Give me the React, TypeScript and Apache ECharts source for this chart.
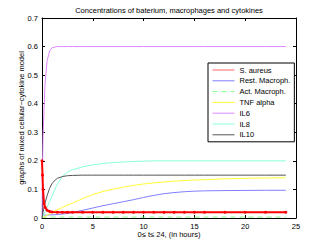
import React, { useEffect, useRef } from "react";
import * as echarts from "echarts";

const times = [0, 0.05, 0.1, 0.2, 0.3, 0.5, 0.75, 1, 1.5, 2, 2.5, 3, 4, 5, 6, 7, 8, 9, 10, 11, 12, 13, 14, 15, 16, 18, 20, 22, 24];

const sAureus = [0.2, 0.15, 0.1, 0.05, 0.038, 0.027, 0.023, 0.021, 0.02, 0.02, 0.02, 0.02, 0.02, 0.02, 0.02, 0.02, 0.02, 0.02, 0.02, 0.02, 0.02, 0.02, 0.02, 0.02, 0.02, 0.02, 0.02, 0.02, 0.02];
const restMacroph = [0.01, 0.01, 0.01, 0.01, 0.01, 0.01, 0.011, 0.011, 0.012, 0.014, 0.016, 0.019, 0.027, 0.035, 0.043, 0.05, 0.057, 0.064, 0.072, 0.079, 0.085, 0.089, 0.092, 0.094, 0.095, 0.096, 0.0965, 0.097, 0.097];
const actMacroph = [0, 0.003, 0.003, 0.003, 0.003, 0.003, 0.003, 0.003, 0.003, 0.003, 0.003, 0.003, 0.003, 0.003, 0.003, 0.003, 0.003, 0.003, 0.003, 0.003, 0.003, 0.003, 0.003, 0.003, 0.003, 0.003, 0.003, 0.003, 0.003];
const tnfAlpha = [0, 0.001, 0.002, 0.004, 0.006, 0.01, 0.015, 0.02, 0.029, 0.037, 0.045, 0.052, 0.068, 0.082, 0.093, 0.101, 0.108, 0.114, 0.119, 0.123, 0.126, 0.129, 0.131, 0.133, 0.134, 0.137, 0.139, 0.14, 0.141];
const il6 = [0, 0.17, 0.28, 0.38, 0.47, 0.55, 0.585, 0.596, 0.6, 0.6, 0.6, 0.6, 0.6, 0.6, 0.6, 0.6, 0.6, 0.6, 0.6, 0.6, 0.6, 0.6, 0.6, 0.6, 0.6, 0.6, 0.6, 0.6, 0.6];
const il8 = [0, 0.003, 0.007, 0.014, 0.022, 0.038, 0.058, 0.078, 0.118, 0.145, 0.16, 0.169, 0.179, 0.186, 0.191, 0.194, 0.196, 0.198, 0.199, 0.2, 0.2, 0.2, 0.2, 0.2, 0.2, 0.2, 0.2, 0.2, 0.2];
const il10 = [0, 0.01, 0.02, 0.038, 0.053, 0.078, 0.104, 0.122, 0.139, 0.145, 0.148, 0.149, 0.15, 0.15, 0.15, 0.15, 0.15, 0.15, 0.15, 0.15, 0.15, 0.15, 0.15, 0.15, 0.15, 0.15, 0.15, 0.15, 0.15];

const seriesNames = ["S. aureus", "Rest. Macroph.", "Act. Macroph.", "TNF alpha", "IL6", "IL8", "IL10"];
const xTicks = [0, 5, 10, 15, 20, 25];
const yTicks = [0, 0.1, 0.2, 0.3, 0.4, 0.5, 0.6, 0.7];

const FONT = "Liberation Sans, Arial, sans-serif";

export default function App() {
  const ref = useRef<HTMLDivElement>(null);
  useEffect(() => {
    if (!ref.current) return;
    const chart = echarts.init(ref.current, null, { renderer: "svg" });
    const pair = (vals: number[]) => times.map((t, i) => [t, vals[i]]);
    const values = [sAureus, restMacroph, actMacroph, tnfAlpha, il6, il8, il10];
    const colors = ["#ff0000", "#7f7fff", "#80ff80", "#ffff33", "#dd88ff", "#88ffdd", "#555555"];
    const series: any[] = values.map((v, i) => ({
      type: "line",
      name: seriesNames[i],
      data: pair(v),
      xAxisIndex: 0,
      yAxisIndex: 0,
      showSymbol: i === 0,
      symbol: i === 0 ? "circle" : "none",
      symbolSize: 3,
      smooth: false,
      color: colors[i],
      lineStyle: {
        color: colors[i],
        width: i === 0 ? 2 : 1,
        type: i === 2 ? [5, 4] : "solid",
      },
      itemStyle: { color: colors[i] },
      z: i === 0 ? 3 : 2,
    }));
    const axisCommon = {
      axisLine: { show: true, onZero: false, lineStyle: { color: "#000", width: 1 } },
      axisTick: { show: true, inside: true, length: 3, lineStyle: { color: "#000" } },
      splitLine: { show: false },
    };
    chart.setOption({
      animation: false,
      backgroundColor: "#fff",
      graphic: [
        {
          type: "text",
          x: 169,
          y: 10,
          style: {
            text: "Concentrations of baterium, macrophages and cytokines",
            align: "center",
            verticalAlign: "middle",
            font: `7.5px ${FONT}`,
            fill: "#000",
          },
        },
      ],
      grid: { left: 42, right: 31, top: 18, bottom: 28, show: false },
      legend: {
        data: seriesNames.map((n, i) => ({
          name: n,
          itemStyle: { opacity: 0 },
          lineStyle: { width: 1, opacity: i === 0 ? 0.6 : 1 },
        })),
        orient: "vertical",
        left: 208,
        top: 63,
        padding: [3, 4, 3, 4],
        itemWidth: 22,
        itemHeight: 8,
        itemGap: 2.8,
        backgroundColor: "#fff",
        borderColor: "#000",
        borderWidth: 1,
        borderRadius: 0,
        textStyle: { fontSize: 7.5, fontFamily: FONT, color: "#000", lineHeight: 8 },
      },
      xAxis: [
        {
          ...axisCommon,
          type: "value",
          min: xTicks[0],
          max: xTicks[xTicks.length - 1],
          interval: 5,
          position: "bottom",
          name: "0\u2264 t\u2264 24, (in hours)",
          nameLocation: "middle",
          nameGap: 12,
          nameMoveOverlap: false,
          nameTextStyle: { fontSize: 7.5, fontFamily: FONT, color: "#000" },
          axisLabel: { fontSize: 7.5, fontFamily: FONT, color: "#000", margin: 4 },
        },
        {
          ...axisCommon,
          type: "value",
          min: xTicks[0],
          max: xTicks[xTicks.length - 1],
          interval: 5,
          position: "top",
          axisLabel: { show: false },
        },
      ],
      yAxis: [
        {
          ...axisCommon,
          type: "value",
          min: yTicks[0],
          max: yTicks[yTicks.length - 1],
          interval: 0.1,
          position: "left",
          name: "graphs of mixed cellular\u2212cytokine model",
          nameLocation: "middle",
          nameGap: 17,
          nameMoveOverlap: false,
          nameRotate: 90,
          nameTextStyle: { fontSize: 7.5, fontFamily: FONT, color: "#000" },
          axisLabel: {
            fontSize: 7.5,
            fontFamily: FONT,
            color: "#000",
            margin: 4,
            formatter: (v: number) => (v === 0 ? "0" : v.toFixed(1)),
          },
        },
        {
          ...axisCommon,
          type: "value",
          min: yTicks[0],
          max: yTicks[yTicks.length - 1],
          interval: 0.1,
          position: "right",
          axisLabel: { show: false },
        },
      ],
      series,
    });
    return () => chart.dispose();
  }, []);
  return (
    <div
      ref={ref}
      style={{ position: "fixed", left: 0, top: 0, width: 327, height: 246, background: "#fff" }}
    />
  );
}
